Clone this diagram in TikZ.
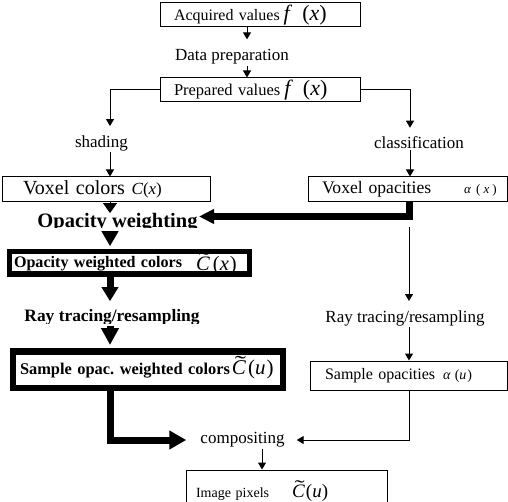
\documentclass[tikz,border=0pt]{standalone}
\usepackage{fontspec}
\usepackage{graphicx}
\setmainfont{Liberation Serif}
\usetikzlibrary{arrows.meta,calc}
\frenchspacing
\newcommand\mysz[2]{{\fontsize{#1}{#1}\selectfont\mdseries #2}}
\newcommand\iv[1]{\textit{#1}}
\newcommand\Ct{\ooalign{\textit{C}\cr\hidewidth\kern0.12em\raisebox{0.2em}{\scalebox{1.6}[1]{˜}}\hidewidth\cr}}
\begin{document}
\begin{tikzpicture}[x=1pt,y=-1pt,
  box/.style={draw,line width=1pt,rectangle,inner ysep=0pt,align=left,
    font=\fontsize{17}{20}\selectfont},
  lbl/.style={inner sep=1pt,font=\fontsize{17}{20}\selectfont},
  blbl/.style={inner sep=0pt,font=\fontsize{17.4}{20}\selectfont\bfseries},
  thn/.style={line width=1pt,-{Triangle[length=7pt,width=8pt]}},
  thk/.style={line width=7pt}
]
\useasboundingbox (0,0) rectangle (508,502);
% column coordinates
\coordinate (ax) at (247,0);
\coordinate (lx) at (110,0);
\coordinate (rx) at (410,0);
\coordinate (vx) at (409,0);
\coordinate (col) at (110,0);
\coordinate (cx) at (262,0);

% boxes
\node[box,text width=172pt,inner xsep=14pt,minimum height=24pt,
  font=\fontsize{16}{20}\selectfont] (acq) at (260,15)
  {\mbox{Acquired values\hspace{4pt}\mysz{22}{\iv{f}\hspace{10pt}(\iv{x})}}};
\node[lbl] (dp) at (232,57) {Data preparation};
\node[box,text width=172pt,inner xsep=14pt,minimum height=24pt,
  font=\fontsize{16.5}{20}\selectfont] (prep) at (260,90)
  {\mbox{Prepared values\hspace{4pt}\mysz{22}{\iv{f}\hspace{10pt}(\iv{x})}}};
\node[lbl] (sh) at (101.5,143) {shading};
\node[lbl] (cl) at (419,143) {classification};
\node[box,text width=166pt,inner xsep=21pt,minimum height=25pt,
  font=\fontsize{20}{22}\selectfont] (vcol) at (106,189.5)
  {\mbox{Voxel colors \mysz{17}{\iv{C}(\iv{x})}}};
\node[box,text width=171pt,inner xsep=14pt,minimum height=25pt,
  font=\fontsize{17.6}{20}\selectfont] (vop) at (407.5,189.5)
  {\mbox{Voxel opacities\hspace{33pt}\mysz{13}{\iv{α}\hspace{5pt}(\hspace{3pt}\iv{x}\hspace{3pt})}}};
\begin{scope}
  \clip (0,0) rectangle (508,228);
  \node[blbl,font=\fontsize{20.5}{22}\selectfont\bfseries,anchor=base] (ow) at (117.5,227.5)
    {Opacity weighting};
\end{scope}
\node[box,line width=5.5pt,text width=231pt,inner xsep=4.5pt,minimum height=22.5pt,
  text height=13pt,text depth=3pt,
  font=\fontsize{16.1}{18}\selectfont\bfseries] (owc) at (129.5,263)
  {\mbox{Opacity weighted colors\hspace{14pt}\raisebox{-3pt}{\mysz{20.5}{\Ct\hspace{3pt}(\iv{x}\hspace{1pt})}}}};
\begin{scope}
  \clip (0,0) rectangle (508,323);
  \node[blbl,anchor=base] (rtb) at (112,321.5) {Ray tracing/resampling};
\end{scope}
\node[lbl,anchor=base] (rtn) at (405,322) {Ray tracing/resampling};
\node[box,line width=6.5pt,text width=256pt,inner xsep=7pt,minimum height=36.5pt,
  text height=13pt,text depth=3pt,
  font=\fontsize{16.4}{20}\selectfont\bfseries] (soc) at (148,369.75)
  {\mbox{Sample opac. weighted colors\hspace{2pt}\mysz{21}{\Ct\hspace{2pt}(\iv{u}\hspace{1pt})}}};
\node[box,text width=167pt,inner xsep=15pt,minimum height=29pt,
  font=\fontsize{16}{20}\selectfont] (sop) at (408.5,375.5)
  {\mbox{Sample opacities\hspace{8pt}\mysz{14}{\iv{α}\hspace{4pt}(\iv{u}\hspace{1pt})}}};
\node[lbl] (comp) at (242.5,440) {compositing};
\node[box,text width=181pt,inner xsep=10pt,minimum height=46pt,
  text height=12pt,text depth=4pt,
  font=\fontsize{14}{18}\selectfont] (img) at (286.5,493)
  {\mbox{Image pixels\hspace{23pt}\mysz{19}{\Ct\hspace{1pt}(\iv{u})}}};

\coordinate (owin) at (199,216.5);
\coordinate (rtstart) at (409,227);

% thin connectors
\draw[thn,shorten >=9pt] (acq.south -| ax) -- (dp.north -| ax);
\draw[thn] (dp.south -| ax) -- (prep.north -| ax);
\draw[thn,shorten >=8pt] (prep.west) -| (lx |- sh.north);
\draw[thn,shorten >=8pt] (prep.east) -| (rx |- cl.north);
\draw[thn] (lx |- sh.south) -- (lx |- vcol.north);
\draw[thn] (rx |- cl.south) -- (rx |- vop.north);
\draw[thn,shorten >=8pt] (rtstart) -- (vx |- rtn.north);
\draw[thn] (vx |- rtn.south) -- (vx |- sop.north);
\draw[thn,shorten >=11pt] (vx |- sop.south) |- (comp.east);
\draw[thn] (cx |- comp.south) -- (cx |- img.north);
\draw[line width=1pt,-{Triangle[length=10pt,width=14pt]}] (vcol.south -| col) -- (col |- ow.north);

% thick connectors
\draw[thk,-{Triangle[length=15pt,width=14pt]}] (vop.south -| vx) |- (owin);
\draw[thk,shorten >=2.75pt,-{Triangle[length=15pt,width=16pt]}] (col |- ow.south) -- (col |- owc.north);
\draw[thk,shorten >=8pt,-{Triangle[length=14pt,width=16pt]}] (col |- owc.south) -- (col |- rtb.north);
\draw[thk,shorten >=3.25pt,-{Triangle[length=17pt,width=17pt]}] (col |- rtb.south) -- (col |- soc.north);
\draw[thk,shorten >=13pt,-{Triangle[length=17pt,width=18pt]}] (soc.south -| col) |- (comp.west);
\end{tikzpicture}
\end{document}
